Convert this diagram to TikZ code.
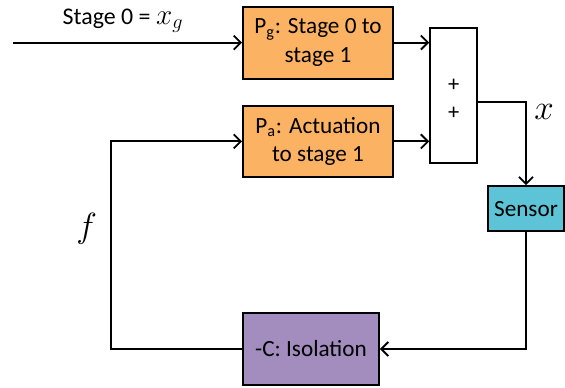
\documentclass[tikz,border=0pt]{standalone}
\usepackage{fontspec}
\setmainfont{Carlito}
\usetikzlibrary{arrows.meta,positioning,calc}

\definecolor{plantorange}{RGB}{251,178,99}
\definecolor{sensorcyan}{RGB}{92,196,214}
\definecolor{ctrlpurple}{RGB}{163,140,190}

\begin{document}
\begin{tikzpicture}[
    block/.style={rectangle, draw=black, line width=1.3pt, fill=#1, align=center, inner sep=2pt, font=\fontsize{16.5}{20.5}\selectfont},
    block/.default=white,
    arr/.style={-{Straight Barb[length=5pt,width=10pt,line width=1.3pt]}, line width=1.3pt},
    sig/.style={font=\fontsize{23}{23}\selectfont}
]
    \useasboundingbox (0,0) rectangle (14.125,9.675);

    % Plant blocks
    \node[block=plantorange, minimum width=3.75cm, minimum height=1.8cm]  (pg)  at (7.95,8.61)  {P\textsubscript{g}: Stage 0 to\\stage 1};
    \node[block=plantorange, minimum width=3.75cm, minimum height=1.78cm] (pa)  at (7.95,6.14)  {P\textsubscript{a}: Actuation\\to stage 1};

    % Summing junction
    \node[block, minimum width=1.175cm, minimum height=3.375cm] (sum) at (11.34,7.29) {};
    \node[align=center, font=\fontsize{16}{19.5}\selectfont] (sumsign) at ([yshift=-0.1cm]sum.center) {+\\+};

    % Sensor and controller
    \node[block=sensorcyan, minimum width=1.9cm, minimum height=1.125cm] (sensor) at (13.15,4.46) {Sensor};
    \node[block=ctrlpurple, minimum width=3.4cm, minimum height=1.8cm]    (iso)    at (7.775,0.95) {-C: Isolation};

    \coordinate (in) at (0.325,8.61);
    \coordinate (fb) at (2.775,0.95);

    % Forward path
    \draw[arr] (in) -- node[above=3pt, pos=0.48, font=\fontsize{17}{17}\selectfont] {Stage 0 = {\fontsize{22}{22}\selectfont$x_g$}} (pg.west);
    \draw[arr] (pg.east) -- (sum.west |- pg.east);
    \draw[arr] (pa.east) -- (sum.west |- pa.east);
    \draw[arr] ([yshift=-0.16cm]sum.east) -| coordinate[pos=0.5] (xc) (sensor.north);
    \node[sig] (xlab) at ($(xc)+(0.45,-0.25)$) {$x$};

    % Feedback loop
    \draw[arr] (sensor.south) |- (iso.east);
    \draw[arr] (iso.west) -- (fb) |- node[left=6pt, pos=0.29, sig] {$f$} (pa.west);

\end{tikzpicture}
\end{document}
